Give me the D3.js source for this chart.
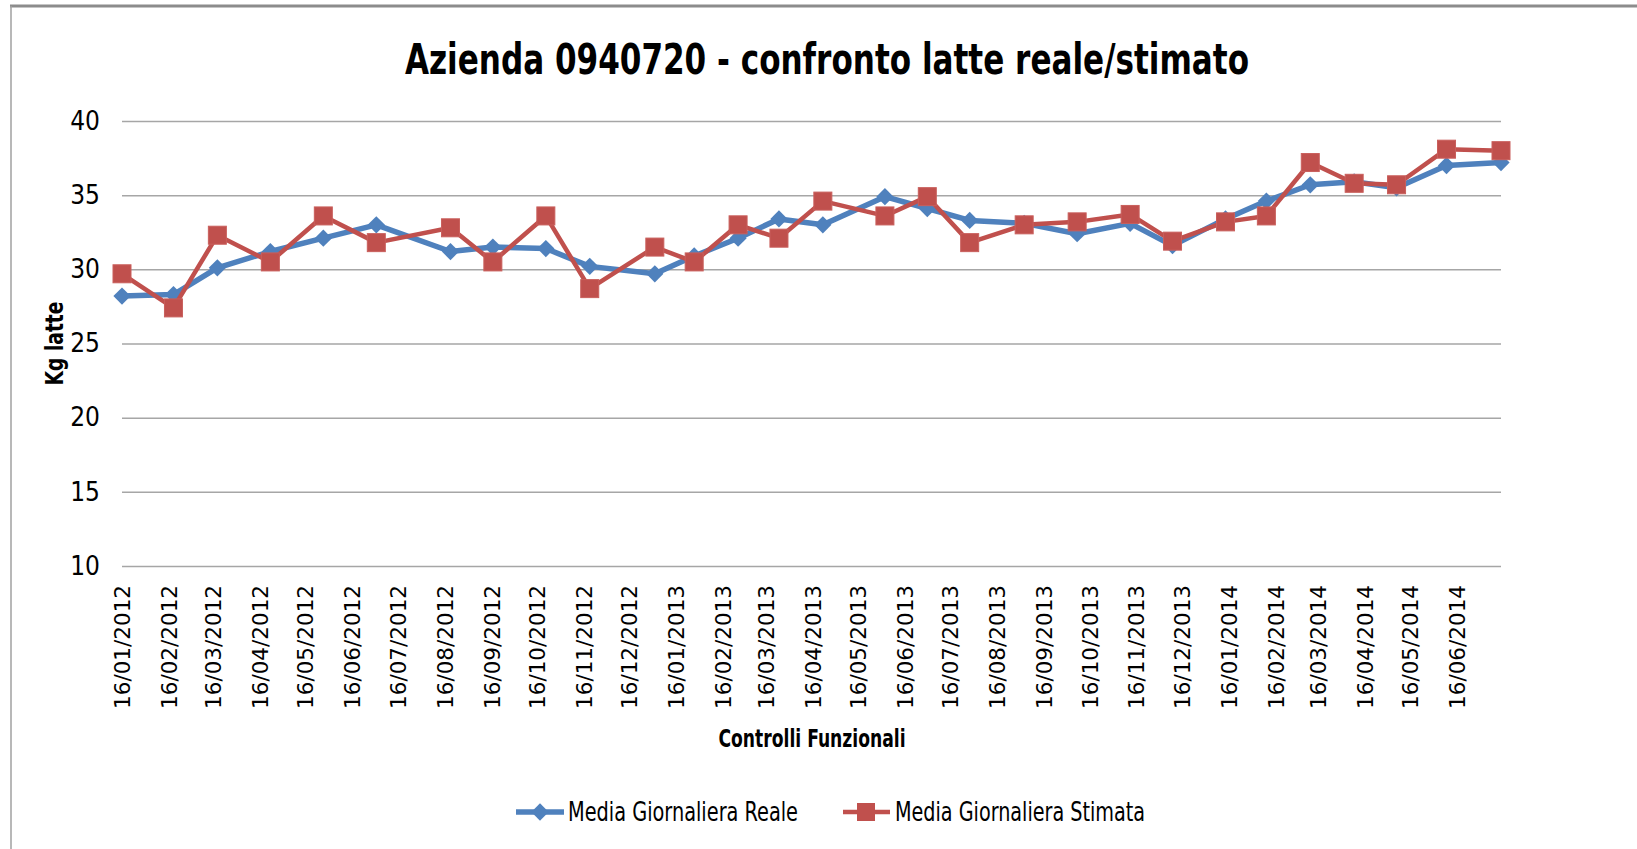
<!DOCTYPE html>
<html>
<head>
<meta charset="utf-8">
<script src="https://cdn.jsdelivr.net/npm/d3@7"></script>
<style>
  body { margin: 0; background: #fff; }
  svg { display: block; }
</style>
</head>
<body>
<svg id="chart" width="1637" height="849"></svg>
<script>
// control dates (Controlli Funzionali)
const dates = [
  "2012-01-16", "2012-02-19", "2012-03-19", "2012-04-23", "2012-05-28", "2012-07-02",
  "2012-08-20", "2012-09-17", "2012-10-22", "2012-11-20", "2013-01-02", "2013-01-28",
  "2013-02-26", "2013-03-25", "2013-04-23", "2013-06-03", "2013-07-01", "2013-07-29",
  "2013-09-03", "2013-10-08", "2013-11-12", "2013-12-10", "2014-01-14", "2014-02-10",
  "2014-03-11", "2014-04-09", "2014-05-07", "2014-06-09", "2014-07-15"
];
const reale = [
  28.2, 28.3, 30.1, 31.2, 32.1, 33.0, 31.2, 31.5, 31.4, 30.2, 29.7, 30.9,
  32.1, 33.4, 33.0, 34.9, 34.1, 33.3, 33.1, 32.4, 33.1, 31.6, 33.4, 34.6,
  35.7, 35.9, 35.5, 37.0, 37.2
];
const stimata = [
  29.7, 27.4, 32.3, 30.5, 33.6, 31.8, 32.8, 30.5, 33.6, 28.7, 31.5, 30.5,
  33.0, 32.1, 34.6, 33.6, 34.9, 31.8, 33.0, 33.2, 33.7, 31.9, 33.2, 33.6,
  37.2, 35.8, 35.7, 38.1, 38.0
];
const yTicks = [10, 15, 20, 25, 30, 35, 40];
const seriesNames = ["Media Giornaliera Reale", "Media Giornaliera Stimata"];

// Calibri isn't available: condensed DejaVu, squeezed to the original widths
const narrow = "'Liberation Sans Narrow', 'DejaVu Sans Condensed', 'Arial Narrow', sans-serif";
const blue = "#4f81bd";
const red = "#c0504d";

const svg = d3.select("#chart");
const parse = d3.timeParse("%Y-%m-%d");
const fmt = d3.timeFormat("%d/%m/%Y");
const days = dates.map(parse);

const plotLeft = 122, plotRight = 1501, plotTop = 121, plotBottom = 566;

const x = d3.scaleTime().domain(d3.extent(days)).range([plotLeft, plotRight]);
const y = d3.scaleLinear().domain([10, 40]).range([plotBottom, plotTop]);

function squeeze(sel, w) {
  sel.attr("textLength", w).attr("lengthAdjust", "spacingAndGlyphs");
}

// chart area border (top and left edges visible)
svg.append("line").attr("x1", 10).attr("x2", 1637).attr("y1", 6).attr("y2", 6)
  .attr("stroke", "#8c8c8c").attr("stroke-width", 3);
svg.append("line").attr("x1", 11).attr("x2", 11).attr("y1", 6).attr("y2", 849)
  .attr("stroke", "#a0a0a0").attr("stroke-width", 1.5);

// title
svg.append("text")
  .attr("x", 827).attr("y", 74)
  .attr("text-anchor", "middle")
  .style("font-family", narrow).style("font-weight", "bold").style("font-size", "42px")
  .text("Azienda 0940720 - confronto latte reale/stimato")
  .call(squeeze, 844);

// horizontal gridlines + y labels
const yAxis = d3.axisLeft(y).tickValues(yTicks).tickSize(-(plotRight - plotLeft)).tickPadding(22);
const gy = svg.append("g").attr("transform", `translate(${plotLeft},0)`).call(yAxis);
gy.select(".domain").remove();
gy.selectAll(".tick line").attr("stroke", "#a6a6a6").attr("stroke-width", 1.5);
gy.selectAll(".tick text")
  .style("font-family", narrow).style("font-size", "26px").attr("fill", "#000");

// x axis: ticks on the 16th of every month
const [d0, d1] = x.domain();
const xTicks = d3.timeMonth.range(d3.timeMonth.floor(d0), d1)
  .map(d => d3.timeDay.offset(d, 15))
  .filter(d => d >= d0 && d <= d1);
const xAxis = d3.axisBottom(x).tickValues(xTicks).tickFormat(fmt).tickSize(0);
const gx = svg.append("g").attr("transform", `translate(0,${plotBottom})`).call(xAxis);
gx.select(".domain").remove();
gx.selectAll(".tick text")
  .attr("transform", "rotate(-90)")
  .attr("text-anchor", "end")
  .attr("x", -19).attr("y", 0).attr("dy", "0.36em")
  .style("font-family", "'DejaVu Sans', Verdana, sans-serif").style("font-size", "21.5px")
  .attr("fill", "#000");

// axis titles
svg.append("text")
  .attr("transform", `translate(63,${(plotTop + plotBottom) / 2}) rotate(-90)`)
  .attr("text-anchor", "middle")
  .style("font-family", narrow).style("font-weight", "bold").style("font-size", "25px")
  .text("Kg latte")
  .call(squeeze, 84);
svg.append("text")
  .attr("x", 812).attr("y", 747)
  .attr("text-anchor", "middle")
  .style("font-family", narrow).style("font-weight", "bold").style("font-size", "25px")
  .text("Controlli Funzionali")
  .call(squeeze, 187);

const line = d3.line().x(d => x(d.date)).y(d => y(d.value));
const diamond = d3.symbol().type(d3.symbolDiamond2).size(190);

const realeData = days.map((d, i) => ({ date: d, value: reale[i] }));
const stimataData = days.map((d, i) => ({ date: d, value: stimata[i] }));

// series 1: Reale (blue, diamonds)
svg.append("path").datum(realeData)
  .attr("d", line).attr("fill", "none")
  .attr("stroke", blue).attr("stroke-width", 5.5).attr("stroke-linejoin", "round");
svg.append("g").selectAll("path").data(realeData).join("path")
  .attr("transform", d => `translate(${x(d.date)},${y(d.value)})`)
  .attr("d", diamond).attr("fill", blue);

// series 2: Stimata (red, squares)
svg.append("path").datum(stimataData)
  .attr("d", line).attr("fill", "none")
  .attr("stroke", red).attr("stroke-width", 4.5).attr("stroke-linejoin", "round");
svg.append("g").selectAll("rect").data(stimataData).join("rect")
  .attr("x", d => x(d.date) - 9).attr("y", d => y(d.value) - 9)
  .attr("width", 18).attr("height", 18)
  .attr("fill", red).attr("stroke", "#c95f5c").attr("stroke-width", 1);

// legend
const legY = 812;
const leg = svg.append("g");
leg.append("line").attr("x1", 516).attr("x2", 564).attr("y1", legY).attr("y2", legY)
  .attr("stroke", blue).attr("stroke-width", 5.5);
leg.append("path").attr("transform", `translate(540,${legY})`).attr("d", diamond).attr("fill", blue);
leg.append("text").attr("x", 568).attr("y", legY).attr("dy", "0.35em")
  .style("font-family", narrow).style("font-size", "26px").text(seriesNames[0])
  .call(squeeze, 230);
leg.append("line").attr("x1", 843).attr("x2", 890).attr("y1", legY).attr("y2", legY)
  .attr("stroke", red).attr("stroke-width", 4.5);
leg.append("rect").attr("x", 857).attr("y", legY - 9).attr("width", 18).attr("height", 18)
  .attr("fill", red);
leg.append("text").attr("x", 895).attr("y", legY).attr("dy", "0.35em")
  .style("font-family", narrow).style("font-size", "26px").text(seriesNames[1])
  .call(squeeze, 250);
</script>
</body>
</html>
